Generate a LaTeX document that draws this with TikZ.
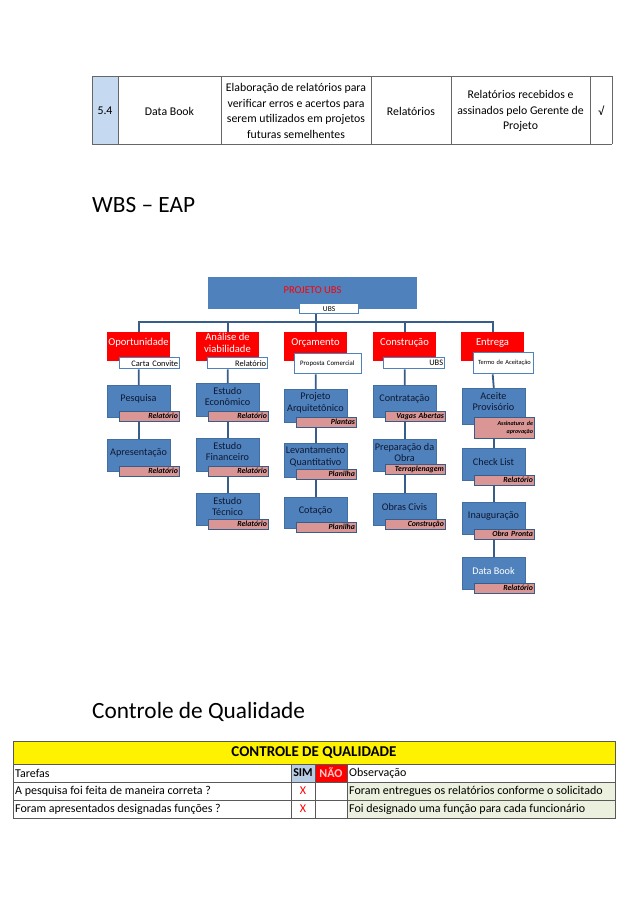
\documentclass[tikz,border=0pt]{standalone}
\usepackage{fontspec}
\setmainfont{Carlito}
\definecolor{wbsblue}{RGB}{79,129,189}
\definecolor{wbsline}{RGB}{56,93,138}
\definecolor{labpink}{RGB}{217,150,148}
\definecolor{tblue}{RGB}{197,217,241}
\definecolor{ygreen}{RGB}{235,241,222}
\definecolor{simblue}{RGB}{184,204,228}
\definecolor{boxtext}{RGB}{15,25,50}
\definecolor{naotext}{RGB}{255,200,200}
\newcommand\wbsitem[8]{%
  \node[bbox,minimum height=#4] (#1) at (#2,#3) {};
  \node[btext] (#1t) at (#2+31.5,#3+13.5) {#5};
  \node[blab,minimum height=#8] (#1l) at (#2+12,#7) {#6};
}
\begin{document}
\begin{tikzpicture}[x=1pt,y=-1pt,
  tline/.style={draw=gray!80!black, line width=0.8pt},
  qline/.style={draw=gray!70!black, line width=0.6pt},
  conn/.style={draw=wbsline, line width=1.8pt},
  bbox/.style={fill=wbsblue, draw=wbsblue!85!black, line width=0.6pt, minimum width=63pt, inner sep=0pt, anchor=north west},
  rbox/.style={fill=red, minimum width=63pt, minimum height=29pt, inner sep=0pt, anchor=north west},
  btext/.style={text=boxtext, font=\fontsize{10.2}{11.8}\selectfont, align=center, inner sep=0pt},
  rtext/.style={text=white, font=\fontsize{10.6}{12}\selectfont, align=center, inner sep=0pt},
  blab/.style={fill=labpink, draw=wbsline, line width=0.9pt, anchor=north west, text width=57pt, inner xsep=1.5pt, inner ysep=0pt, align=right, font=\fontsize{7.8}{8.2}\selectfont\bfseries\itshape},
  rlab/.style={fill=white, draw=wbsblue, line width=1.3pt, anchor=north west, inner xsep=1.5pt, inner ysep=0pt, font=\fontsize{8.4}{9}\selectfont},
  ttext/.style={font=\fontsize{11.8}{15.5}\selectfont, align=center, inner sep=0pt},
  qtext/.style={font=\fontsize{12}{13}\selectfont, anchor=west, inner sep=0pt},
]
\useasboundingbox[fill=white] (0,0) rectangle (638,903);

% ---------- top table ----------
\fill[tblue] (92,76) rectangle (118,144);
\draw[tline] (92,76) -- (612,76);
\draw[tline] (92,144) -- (612,144);
\foreach \xx in {92,118,221,371,451,590,612} \draw[tline] (\xx,76) -- (\xx,144);
\node[ttext] (t1) at (105,111) {5.4};
\node[ttext] (t2) at (169.5,111) {Data Book};
\node[ttext] (t3) at (296,111) {Elaboração de relatórios para\\verificar erros e acertos para\\serem utilizados em projetos\\futuras semelhentes};
\node[ttext] (t4) at (411,111) {Relatórios};
\node[ttext] (t5) at (520.5,111) {Relatórios recebidos e\\assinados pelo Gerente de\\Projeto};
\node[ttext] (t6) at (601,111) {√};

% ---------- headings ----------
\node[font=\fontsize{23.3}{27}\selectfont, anchor=west, inner sep=0pt] (h1) at (92,205) {WBS – EAP};
\node[font=\fontsize{23.3}{27}\selectfont, anchor=west, inner sep=0pt] (h2) at (92,712) {Controle de Qualidade};

% ---------- WBS top ----------
\node[fill=wbsblue, minimum width=209pt, minimum height=32pt, anchor=north west, inner sep=0pt] (top) at (208,277) {};
\node[text=red, font=\fontsize{10.5}{11}\selectfont, inner sep=0pt] (topt) at (312.5,290) {PROJETO UBS};
\coordinate (hub) at (315.5,322);

% level 2
\node[rbox] (r1) at (107,332) {};
\node[rbox] (r2) at (196,332) {};
\node[rbox] (r3) at (284,332) {};
\node[rbox] (r4) at (373,332) {};
\node[rbox] (r5) at (461,332) {};

\draw[conn] (r1.north) |- (hub) -| (r5.north);
\draw[conn] (r2.north) -- (r2.north |- hub);
\draw[conn] (r4.north) -- (r4.north |- hub);
\draw[conn] (r3.north) -- (r3.north |- top.south);

\node[rlab, minimum width=59pt, minimum height=10pt, align=center, font=\fontsize{7.5}{8}\selectfont] (topl) at (299,303) {UBS};

\node[rtext] (r1t) at (138.5,343) {Oportunidade};
\node[rtext] (r2t) at (227.5,343) {Análise de\\viabilidade};
\node[rtext] (r3t) at (315.5,343) {Orçamento};
\node[rtext] (r4t) at (404.5,343) {Construção};
\node[rtext] (r5t) at (492.5,343) {Entrega};

\node[rlab, text width=57pt, align=right, minimum height=11pt] (r1l) at (119,357) {Carta Convite};
\node[rlab, text width=64pt, align=left, minimum height=20pt, font=\fontsize{6.8}{7}\selectfont] (r3l) at (294,353) {\hspace{4pt}Proposta Comercial};
\node[rlab, text width=57pt, align=right, minimum height=11pt] (r2l) at (207,357) {Relatório};
\node[rlab, text width=58pt, align=right, minimum height=11pt] (r4l) at (383,357) {UBS};
\node[rlab, text width=57pt, align=left, minimum height=21pt, font=\fontsize{6.4}{7}\selectfont] (r5l) at (473,352) {\hspace{3pt}Termo de Aceitação};

% level 3
\wbsitem{p1}{107}{385}{32pt}{Pesquisa}{Relatório}{411}{9.5pt}
\wbsitem{p2}{107}{439}{32pt}{Apresentação}{Relatório}{466}{9.5pt}
\wbsitem{a1}{196}{383}{33pt}{Estudo\\Econômico}{Relatório}{411}{9.5pt}
\wbsitem{a2}{196}{438}{33pt}{Estudo\\Financeiro}{Relatório}{466}{9.5pt}
\wbsitem{a3}{196}{493}{32pt}{Estudo\\Técnico}{Relatório}{519}{9.5pt}
\wbsitem{o1}{284}{389}{33pt}{Projeto\\Arquitetônico}{Plantas}{417}{9.5pt}
\wbsitem{o2}{284}{443}{34pt}{Levantamento\\Quantitativo}{Planilha}{469}{9.5pt}
\wbsitem{o3}{284}{497}{31pt}{Cotação}{Planilha}{522}{9.5pt}
\wbsitem{c1}{373}{385}{32pt}{Contratação}{Vagas Abertas}{411}{10pt}
\wbsitem{c2}{373}{439}{32pt}{Preparação da\\Obra}{Terraplenagem}{464}{10pt}
\wbsitem{c3}{373}{493}{32pt}{Obras Civis}{Construção}{519}{9.5pt}
\wbsitem{e1}{462}{388}{36pt}{Aceite\\Provisório}{\fontsize{6}{8}\selectfont Assinatura de\\aprovação}{417}{21pt}
\wbsitem{e2}{462}{448}{32pt}{Check List}{Relatório}{475}{9.5pt}
\wbsitem{e3}{462}{502}{32pt}{Inauguração}{Obra Pronta}{529}{9.5pt}
\wbsitem{e4}{462}{557}{32pt}{\color{white}Data Book}{Relatório}{583}{9.5pt}

% connectors level 3
\draw[conn] (r1.center |- r1l.south) -- (p1.north);
\draw[conn] (p1.center |- p1l.south) -- (p2.north);
\draw[conn] (r2.center |- r2l.south) -- (a1.north);
\draw[conn] (a1.center |- a1l.south) -- (a2.north);
\draw[conn] (a2.center |- a2l.south) -- (a3.north);
\draw[conn] (r3.center |- r3l.south) -- (o1.north);
\draw[conn] (o1.center |- o1l.south) -- (o2.north);
\draw[conn] (o2.center |- o2l.south) -- (o3.north);
\draw[conn] (r4.center |- r4l.south) -- (c1.north);
\draw[conn] (c1.center |- c1l.south) -- (c2.north);
\draw[conn] (c2.center |- c2l.south) -- (c3.north);
\draw[conn] (r5.center |- r5l.south) -- (e1.north);
\draw[conn] (e1.center |- e1l.south) -- (e2.north);
\draw[conn] (e2.center |- e2l.south) -- (e3.north);
\draw[conn] (e3.center |- e3l.south) -- (e4.north);

% ---------- bottom table ----------
\fill[yellow] (13,741) rectangle (615,764);
\fill[simblue] (291,764) rectangle (315,782);
\fill[red] (315,764) rectangle (347,782);
\fill[ygreen] (347,782) rectangle (615,818);
\draw[qline] (13,741) rectangle (615,818);
\draw[qline] (13,764) -- (615,764);
\draw[qline] (13,782) -- (615,782);
\draw[qline] (13,800) -- (615,800);
\foreach \xx in {291,315,347} \draw[qline] (\xx,764) -- (\xx,818);
\node[font=\fontsize{15}{17}\selectfont\bfseries, inner sep=0pt] (qh) at (314,753) {CONTROLE DE QUALIDADE};
\node[qtext] (q1) at (15,773) {Tarefas};
\node[qtext, font=\fontsize{12}{13}\selectfont\bfseries, anchor=center] (q2) at (303,773) {SIM};
\node[qtext, font=\fontsize{12}{13}\selectfont\bfseries, anchor=center, text=naotext] (q3) at (331,773) {NÃO};
\node[qtext] (q4) at (349,773) {Observação};
\node[qtext] (q5) at (15,791) {A pesquisa foi feita de maneira correta ?};
\node[qtext, anchor=center, text=red] (q6) at (303,791) {X};
\node[qtext] (q7) at (349,791) {Foram entregues os relatórios conforme o solicitado};
\node[qtext] (q8) at (15,809) {Foram apresentados designadas funções ?};
\node[qtext, anchor=center, text=red] (q9) at (303,809) {X};
\node[qtext] (q10) at (349,809) {Foi designado uma função para cada funcionário};
\end{tikzpicture}
\end{document}
